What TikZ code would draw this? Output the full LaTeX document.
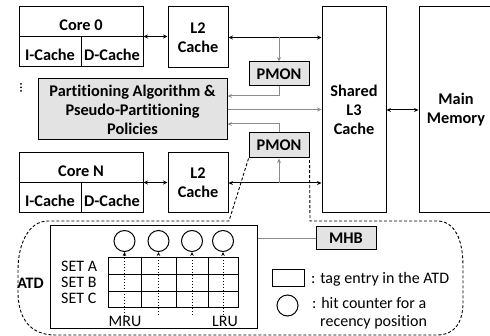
\documentclass[tikz,border=0pt]{standalone}
\usepackage{fontspec}
\setmainfont{Carlito}[Ligatures=NoCommon]
\usetikzlibrary{arrows.meta}
\begin{document}
\begin{tikzpicture}[x=1pt,y=-1pt,
  box/.style={draw, line width=1pt, inner sep=0pt, align=center, font=\fontsize{16.3}{19}\selectfont\bfseries},
  lowtext/.style={text height=17pt, text depth=0pt},
  gbox/.style={box, fill=black!11},
  txt/.style={inner sep=0pt, font=\fontsize{16}{19}\selectfont},
  btxt/.style={inner sep=0pt, font=\fontsize{16}{19}\selectfont\bfseries},
  arr/.style={line width=1pt, {Stealth[length=4.5pt,width=4pt]}-{Stealth[length=4.5pt,width=4pt]}},
  garr/.style={draw=black!45, line width=1pt, -{Stealth[length=4.5pt,width=4pt]}},
  dotarr/.style={line width=1pt, dotted, -{Stealth[length=4pt,width=3.5pt]}},
  cnt/.style={circle, draw, line width=1pt, minimum size=21pt, inner sep=0pt}
]
\useasboundingbox (0,0) rectangle (490,336);
\clip (0,0) rectangle (490,336);
% Core 0
\node[box, lowtext, minimum width=124pt, minimum height=30pt] (core0) at (81,22) {Core 0};
\node[box, lowtext, minimum width=62pt, minimum height=30pt] (ic0) at (50,52) {I-Cache};
\node[box, lowtext, minimum width=62pt, minimum height=30pt] (dc0) at (112,52) {D-Cache};
\node[box, minimum width=60pt, minimum height=61pt] (l2a) at (198,37.5) {L2\\Cache};
% Core N
\node[box, lowtext, minimum width=124pt, minimum height=30pt] (coreN) at (81,168) {Core N};
\node[box, lowtext, minimum width=62pt, minimum height=30pt] (icN) at (50,198) {I-Cache};
\node[box, lowtext, minimum width=62pt, minimum height=30pt] (dcN) at (112,198) {D-Cache};
\node[box, minimum width=60pt, minimum height=60pt] (l2b) at (198,183) {L2\\Cache};
% L3 and memory
\node[box, minimum width=64pt, minimum height=206pt] (l3) at (354,110) {Shared\\L3\\Cache};
\node[box, minimum width=74pt, minimum height=206pt] (mem) at (456,110) {Main\\Memory};
% partitioning and PMONs
\node[gbox, minimum width=189pt, minimum height=61pt] (part) at (132.5,109.5) {Partitioning Algorithm \&\\Pseudo-Partitioning\\Policies};
\node[gbox, minimum width=60pt, minimum height=24pt] (pmon1) at (279,74) {PMON};
\node[gbox, minimum width=60pt, minimum height=25pt] (pmon2) at (279,145.5) {PMON};
% dots
\fill (21,84) circle (1pt) (21,87.5) circle (1pt) (21,91) circle (1pt);
% black connectors
\draw[arr] (dc0.north east) -- (dc0.north east -| l2a.west);
\draw[arr] (l2a.east) -- (l2a.east -| l3.west);
\draw[arr] (dcN.north east) -- (dcN.north east -| l2b.west);
\draw[arr] (l2b.east) -- (l2b.east -| l3.west);
\draw[arr] (l3.east) -- (mem.west);
% gray connectors
\draw[garr] (pmon1.north |- l2a.east) -- (pmon1.north);
\draw[garr] (pmon1.south) |- ([yshift=13.5pt]part.east);
\draw[garr] (part.east) -- (part.east -| l3.west);
\draw[garr] (pmon2.north) |- ([yshift=-14.5pt]part.east);
\draw[garr] (pmon2.south |- l2b.east) -- (pmon2.south);
% dashed callout
\draw[line width=0.9pt, dash pattern=on 3pt off 2pt] (pmon2.south west) -- (229,221) -- (48,221)
  .. controls (28,221) and (18,245) .. (18,270) -- (18,292)
  .. controls (18,318) and (30,335) .. (55,335) -- (437,335)
  .. controls (455,335) and (463,322) .. (463,302) -- (463,266)
  .. controls (463,240) and (455,221) .. (437,221) -- (310,221) -- (pmon2.south east);
% ATD
\node[box, minimum width=207pt, minimum height=103pt] (atd) at (153.5,277.5) {};
\node[btxt, anchor=base] (atdl) at (30.5,289) {ATD};
\node[gbox, minimum width=60pt, minimum height=23pt] (mhb) at (346,238.5) {MHB};
\draw[draw=black!45, line width=1pt] (atd.east |- mhb.west) -- (mhb.west);
\node[txt, anchor=base west] (sa) at (61,272) {SET A};
\node[txt, anchor=base west] (sb) at (61,288) {SET B};
\node[txt, anchor=base west] (sc) at (61,304) {SET C};
% grid
\draw[line width=1pt] (108,258) rectangle (238,308);
\draw[line width=1pt] (108,274.7) -- (238,274.7) (108,291.3) -- (238,291.3)
  (141,258) -- (141,308) (176,258) -- (176,308) (208,258) -- (208,308);
% counters
\node[cnt] (c1) at (124.5,241) {};
\node[cnt] (c2) at (158.5,241) {};
\node[cnt] (c3) at (192,241) {};
\node[cnt] (c4) at (223,241) {};
\coordinate (b1) at (124.5,316);
\coordinate (b2) at (158.5,315);
\coordinate (b3) at (192,315);
\coordinate (b4) at (223,315);
\draw[dotarr] (b1) -- (c1);
\draw[dotarr] (b2) -- (c2);
\draw[dotarr] (b3) -- (c3);
\draw[dotarr] (b4) -- (c4);
\node[txt, anchor=base] (mru) at (125,327) {MRU};
\node[txt, anchor=base] (lru) at (225,327) {LRU};
% legend
\node[draw, line width=1pt, minimum width=32pt, minimum height=17pt, inner sep=0pt] (legr) at (288,278.5) {};
\node[txt, anchor=base west] (legrt) at (311,284) {: tag entry in the ATD};
\node[cnt] (legc) at (287.5,305.5) {};
\node[txt, anchor=base west] (legct) at (312,309) {: hit counter for a};
\node[txt, anchor=base west] (legct2) at (320,327) {recency position};
\end{tikzpicture}
\end{document}
